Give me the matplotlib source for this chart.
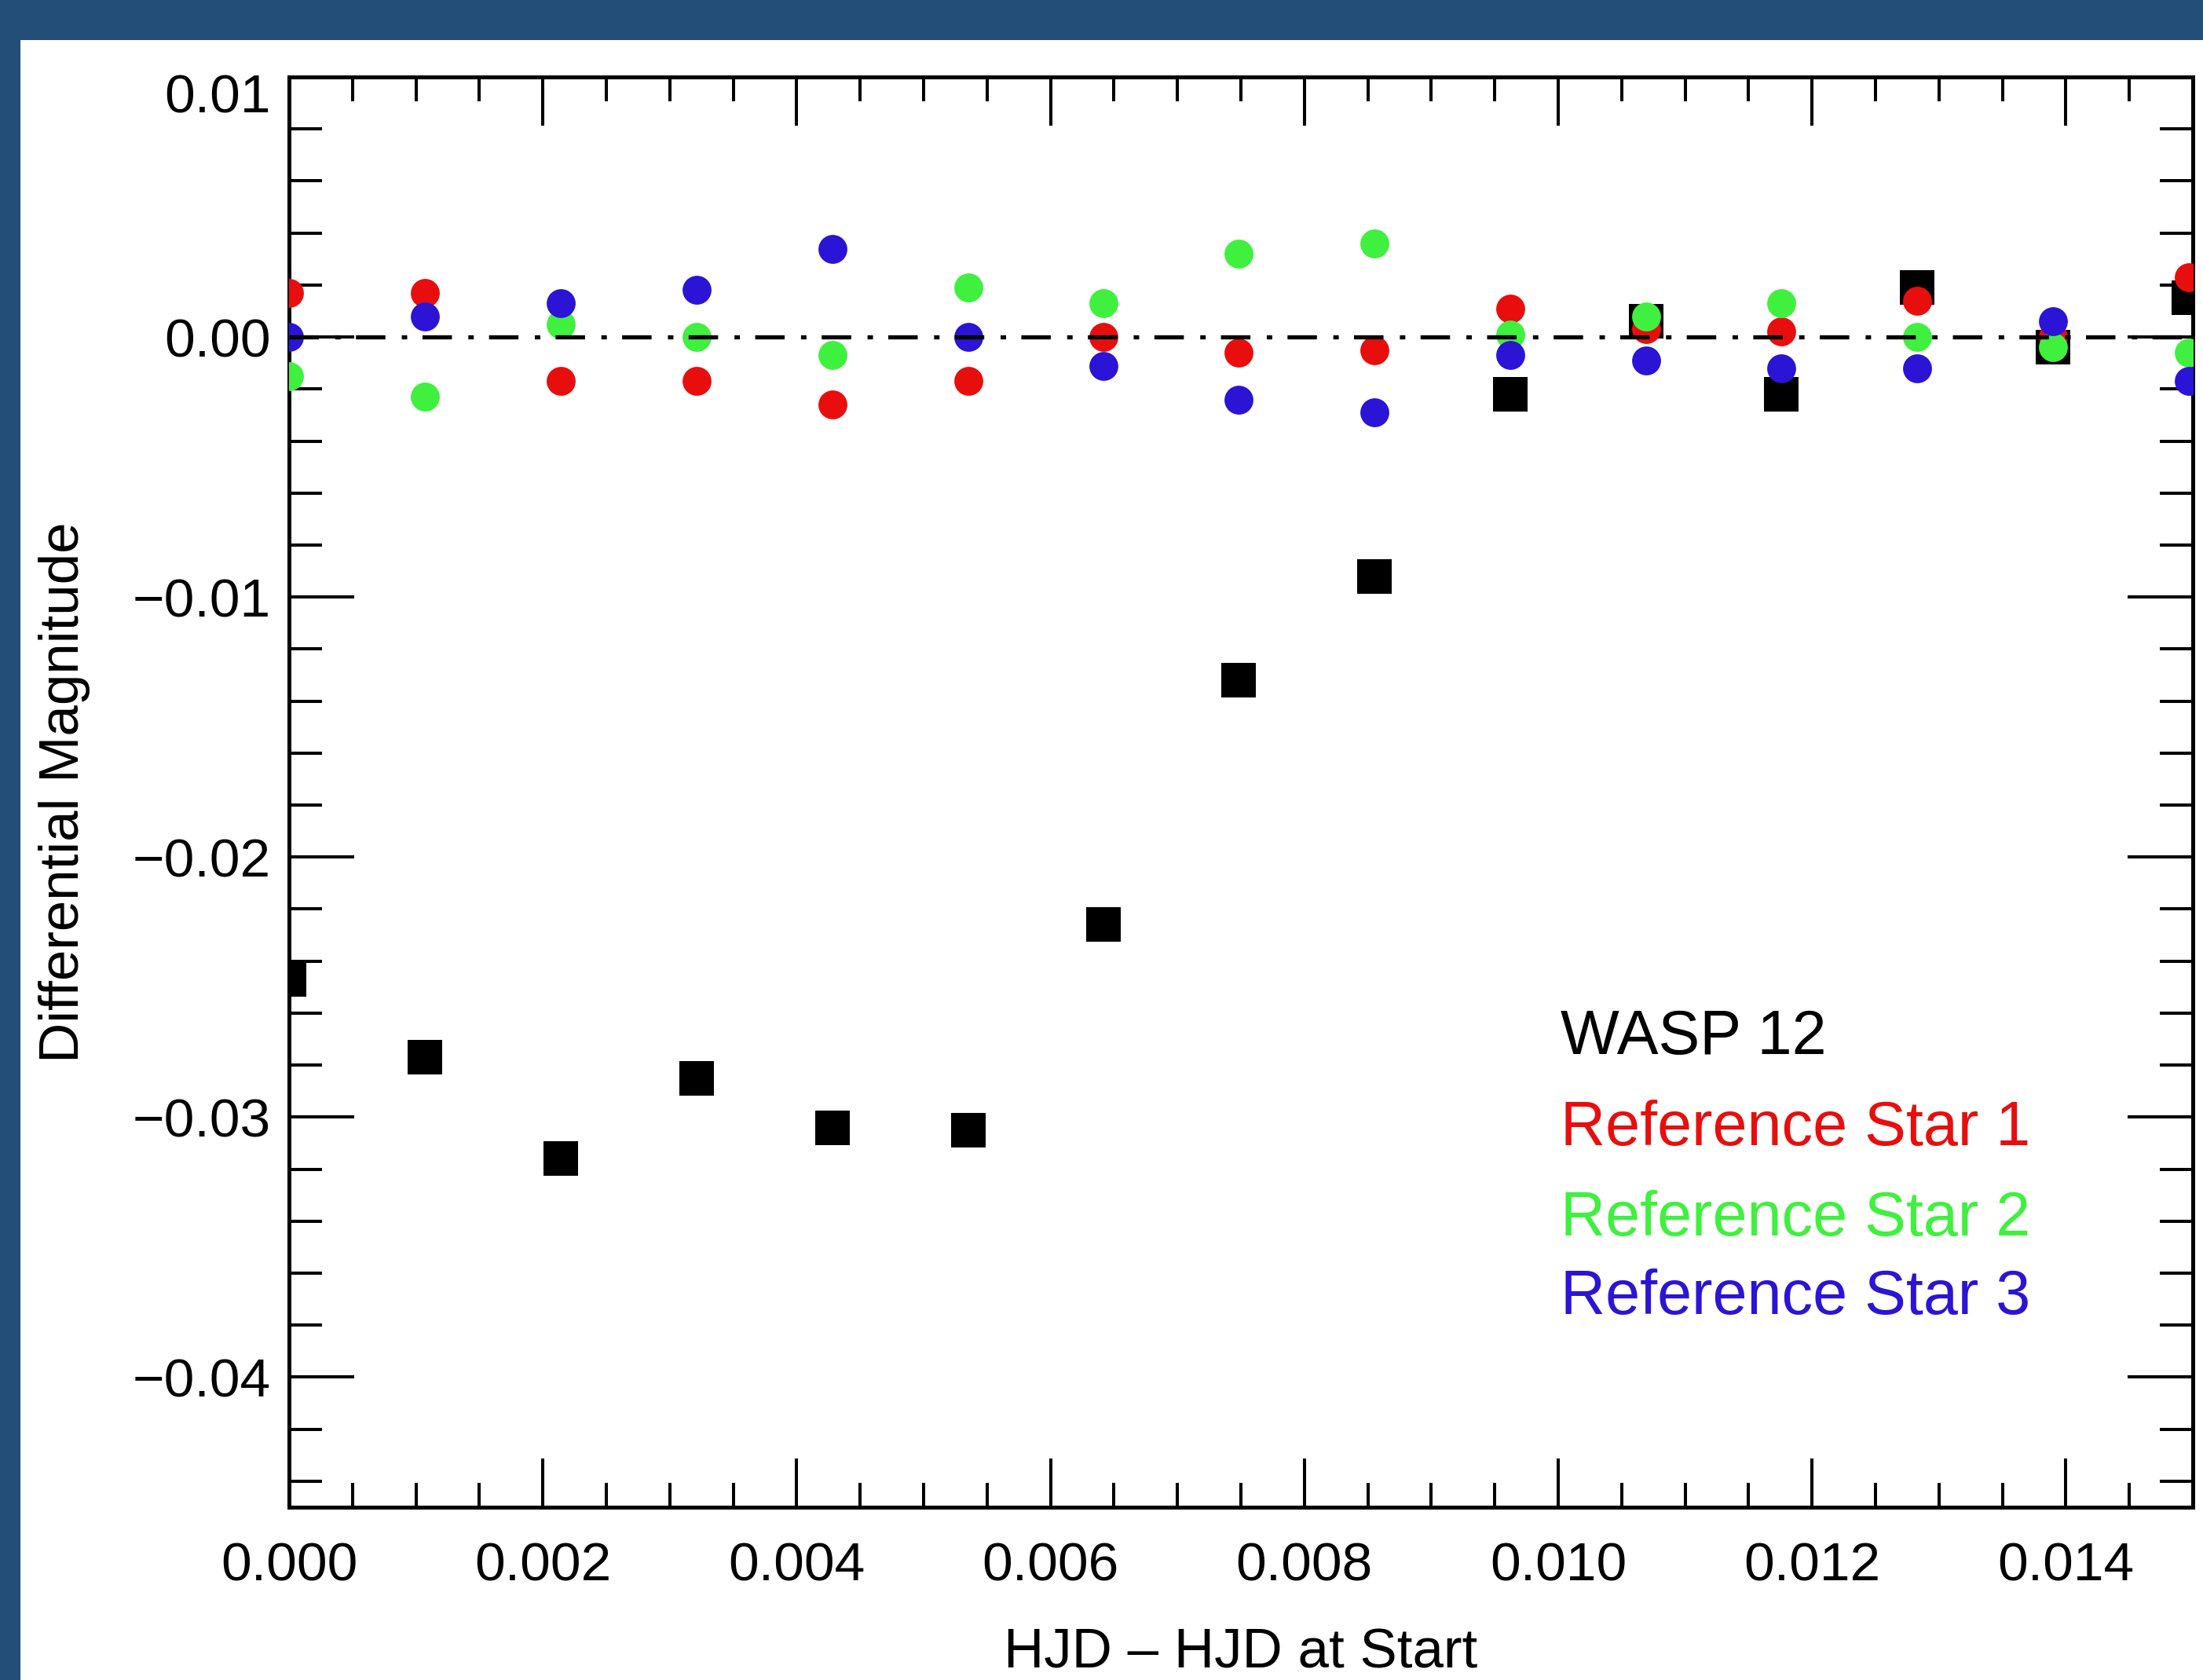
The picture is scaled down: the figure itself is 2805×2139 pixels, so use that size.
import matplotlib
matplotlib.use('Agg')
import matplotlib.pyplot as plt
from matplotlib.patches import Rectangle
from matplotlib.ticker import MultipleLocator, FuncFormatter
import matplotlib.transforms as mtransforms

plt.rcParams['font.family'] = ['Liberation Sans', 'DejaVu Sans']
plt.rcParams['lines.scale_dashes'] = False

# ---- data ----
hjd = [0.00000, 0.00107, 0.00214, 0.00321, 0.00428, 0.00535, 0.00642, 0.00748,
       0.00855, 0.00962, 0.01069, 0.01176, 0.01283, 0.01390, 0.01497]
wasp12 = [-0.0247, -0.0277, -0.0316, -0.0285, -0.0304, -0.0305, -0.0226, -0.0132,
          -0.0092, -0.0022, 0.0006, -0.0022, 0.0019, -0.0004, 0.0015]
ref1 = [0.0017, 0.0017, -0.0017, -0.0017, -0.0026, -0.0017, 0.0000, -0.0006,
        -0.0005, 0.0011, 0.0003, 0.0002, 0.0014, 0.0000, 0.0023]
ref2 = [-0.0015, -0.0023, 0.0005, 0.0000, -0.0007, 0.0019, 0.0013, 0.0032,
        0.0036, 0.0001, 0.0008, 0.0013, 0.0000, -0.0004, -0.0006]
ref3 = [0.0000, 0.0008, 0.0013, 0.0018, 0.0034, 0.0000, -0.0011, -0.0024,
        -0.0029, -0.0007, -0.0009, -0.0012, -0.0012, 0.0006, -0.0017]
legend_labels = ['WASP 12', 'Reference Star 1', 'Reference Star 2', 'Reference Star 3']

RED = '#e80e0e'
GREEN = '#3ff03f'
BLUE = '#2b14d6'
BORDER = '#234e77'

W, H = 2805, 2139
fig = plt.figure(figsize=(W / 100, H / 100), dpi=100)
fig.patch.set_facecolor(BORDER)
fig.add_artist(Rectangle((26 / W, 0), 1 - 26 / W, (H - 51) / H,
                         transform=fig.transFigure, facecolor='white',
                         edgecolor='none', zorder=0))

left, right, top, bottom = 368, 2792, 98, 1919
ax = fig.add_axes([left / W, (H - bottom) / H, (right - left) / W, (bottom - top) / H])
ax.set_facecolor('white')

ax.plot(hjd, wasp12, 's', color='black', ms=31, mew=0, zorder=2)
ax.plot(hjd, ref1, 'o', color=RED, ms=26.5, mew=0, zorder=3)
ax.plot(hjd, ref2, 'o', color=GREEN, ms=26.5, mew=0, zorder=4)
ax.plot(hjd, ref3, 'o', color=BLUE, ms=26.5, mew=0, zorder=5)
zl = ax.axhline(0.0, color='black', lw=3.8, zorder=6)
zl.set_dashes((27, 15, 5, 14))
zl.set_dash_capstyle('butt')

ax.set_xlim(0.0, 0.015)
ax.set_ylim(-0.045, 0.010)


def fmt(decimals):
    def f(v, pos):
        s = f'{v:.{decimals}f}'
        if s.startswith('-'):
            if float(s) == 0:
                s = s[1:]
            else:
                s = '\u2212' + s[1:]
        return s
    return FuncFormatter(f)


ax.xaxis.set_major_locator(MultipleLocator(0.002))
ax.xaxis.set_minor_locator(MultipleLocator(0.0005))
ax.yaxis.set_major_locator(MultipleLocator(0.01))
ax.yaxis.set_minor_locator(MultipleLocator(0.002))
ax.xaxis.set_major_formatter(fmt(3))
ax.yaxis.set_major_formatter(fmt(2))

ax.tick_params(which='both', direction='in', top=True, right=True, width=2.9,
               labelsize=50, colors='black')
ax.xaxis.set_tick_params(which='major', length=44.6, pad=31)
ax.xaxis.set_tick_params(which='minor', length=22)
ax.yaxis.set_tick_params(which='major', length=59.5, pad=17)
ax.yaxis.set_tick_params(which='minor', length=30)
for s in ax.spines.values():
    s.set_linewidth(3.6)

fig.canvas.draw()
# shift top y label down slightly (as in reference)
for lab, loc in zip(ax.yaxis.get_majorticklabels(), ax.yaxis.get_majorticklocs()):
    if abs(loc - 0.01) < 1e-9:
        lab.set_transform(lab.get_transform() +
                          mtransforms.ScaledTranslation(0, -15 / 72, fig.dpi_scale_trans))

ax.set_xlabel('HJD \u2013 HJD at Start', fontsize=51)
ax.xaxis.set_label_coords(0.5, -0.1125)
ax.xaxis.label.set_verticalalignment('baseline')
ax.set_ylabel('Differential Magnitude', fontsize=51)
ax.yaxis.set_label_coords(-0.118, 0.5)
ax.yaxis.label.set_verticalalignment('center')

colors = ['black', RED, GREEN, BLUE]
ys = [0.3169, 0.2532, 0.1900, 0.1351]
for lbl, c, y in zip(legend_labels, colors, ys):
    ax.text(0.6678, y, lbl, color=c, fontsize=57, transform=ax.transAxes,
            ha='left', va='baseline', zorder=7)

fig.savefig('out.png', dpi=100, facecolor=fig.get_facecolor())
